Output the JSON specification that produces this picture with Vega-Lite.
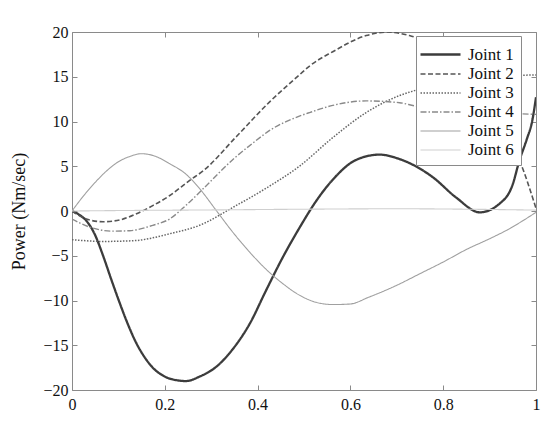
{
  "$schema": "https://vega.github.io/schema/vega-lite/v6.json",
  "width": 464,
  "height": 358,
  "autosize": {"type": "none"},
  "padding": {"left": 72, "top": 32, "right": 7, "bottom": 35},
  "background": "white",
  "config": {
    "view": {"stroke": "#8a8a8a", "strokeWidth": 1},
    "font": "Liberation Serif",
    "style": {
      "guide-label": {"font": "Liberation Serif", "fontSize": 16, "fill": "#111"},
      "guide-title": {"font": "Liberation Serif", "fontSize": 18, "fill": "#111", "fontWeight": "normal"}
    },
    "axis": {
      "domain": false,
      "grid": false,
      "tickColor": "#8a8a8a",
      "tickSize": -5,
      "labelFont": "Liberation Serif",
      "labelFontSize": 16,
      "labelColor": "#111",
      "titleFont": "Liberation Serif",
      "titleFontSize": 18,
      "titleFontWeight": "normal",
      "titleColor": "#111"
    },
    "legend": {"labelFont": "Liberation Serif", "labelFontSize": 17}
  },
  "datasets": {
    "power": [
      {"joint": "Joint 1", "t": 0, "p": 0},
      {"joint": "Joint 1", "t": 0.015, "p": -0.4},
      {"joint": "Joint 1", "t": 0.031, "p": -1.1},
      {"joint": "Joint 1", "t": 0.049, "p": -2.6},
      {"joint": "Joint 1", "t": 0.067, "p": -5.0},
      {"joint": "Joint 1", "t": 0.085, "p": -7.7},
      {"joint": "Joint 1", "t": 0.103, "p": -10.3},
      {"joint": "Joint 1", "t": 0.12, "p": -12.6},
      {"joint": "Joint 1", "t": 0.139, "p": -14.8},
      {"joint": "Joint 1", "t": 0.156, "p": -16.3},
      {"joint": "Joint 1", "t": 0.174, "p": -17.5},
      {"joint": "Joint 1", "t": 0.2, "p": -18.5},
      {"joint": "Joint 1", "t": 0.225, "p": -18.9},
      {"joint": "Joint 1", "t": 0.246, "p": -19.0},
      {"joint": "Joint 1", "t": 0.275, "p": -18.5},
      {"joint": "Joint 1", "t": 0.311, "p": -17.4},
      {"joint": "Joint 1", "t": 0.347, "p": -15.4},
      {"joint": "Joint 1", "t": 0.383, "p": -12.6},
      {"joint": "Joint 1", "t": 0.418, "p": -8.9},
      {"joint": "Joint 1", "t": 0.454, "p": -5.2},
      {"joint": "Joint 1", "t": 0.49, "p": -1.9},
      {"joint": "Joint 1", "t": 0.526, "p": 1.1},
      {"joint": "Joint 1", "t": 0.562, "p": 3.5},
      {"joint": "Joint 1", "t": 0.612, "p": 5.7},
      {"joint": "Joint 1", "t": 0.663, "p": 6.3},
      {"joint": "Joint 1", "t": 0.706, "p": 5.8},
      {"joint": "Joint 1", "t": 0.777, "p": 3.8},
      {"joint": "Joint 1", "t": 0.828, "p": 1.5},
      {"joint": "Joint 1", "t": 0.879, "p": -0.15},
      {"joint": "Joint 1", "t": 0.921, "p": 0.8},
      {"joint": "Joint 1", "t": 0.95, "p": 3.0},
      {"joint": "Joint 1", "t": 0.964, "p": 5.6},
      {"joint": "Joint 1", "t": 0.98, "p": 8.0},
      {"joint": "Joint 1", "t": 0.992, "p": 10.1},
      {"joint": "Joint 1", "t": 1.0, "p": 12.7},

      {"joint": "Joint 2", "t": 0, "p": 0},
      {"joint": "Joint 2", "t": 0.031, "p": -0.9},
      {"joint": "Joint 2", "t": 0.067, "p": -1.2},
      {"joint": "Joint 2", "t": 0.103, "p": -1.0},
      {"joint": "Joint 2", "t": 0.139, "p": -0.3},
      {"joint": "Joint 2", "t": 0.174, "p": 0.6},
      {"joint": "Joint 2", "t": 0.21, "p": 1.7},
      {"joint": "Joint 2", "t": 0.253, "p": 3.4},
      {"joint": "Joint 2", "t": 0.283, "p": 4.5},
      {"joint": "Joint 2", "t": 0.354, "p": 8.3},
      {"joint": "Joint 2", "t": 0.426, "p": 12.2},
      {"joint": "Joint 2", "t": 0.49, "p": 15.2},
      {"joint": "Joint 2", "t": 0.512, "p": 16.2},
      {"joint": "Joint 2", "t": 0.562, "p": 17.8},
      {"joint": "Joint 2", "t": 0.634, "p": 19.6},
      {"joint": "Joint 2", "t": 0.68, "p": 20.0},
      {"joint": "Joint 2", "t": 0.727, "p": 19.6},
      {"joint": "Joint 2", "t": 0.76, "p": 19.0},
      {"joint": "Joint 2", "t": 0.8, "p": 17.8},
      {"joint": "Joint 2", "t": 0.85, "p": 15.5},
      {"joint": "Joint 2", "t": 0.9, "p": 12.0},
      {"joint": "Joint 2", "t": 0.94, "p": 8.2},
      {"joint": "Joint 2", "t": 0.964, "p": 5.7},
      {"joint": "Joint 2", "t": 1.0, "p": 0.3},

      {"joint": "Joint 3", "t": 0, "p": -3.2},
      {"joint": "Joint 3", "t": 0.067, "p": -3.4},
      {"joint": "Joint 3", "t": 0.139, "p": -3.3},
      {"joint": "Joint 3", "t": 0.174, "p": -3.0},
      {"joint": "Joint 3", "t": 0.21, "p": -2.55},
      {"joint": "Joint 3", "t": 0.275, "p": -1.6},
      {"joint": "Joint 3", "t": 0.35, "p": 0.5},
      {"joint": "Joint 3", "t": 0.42, "p": 2.6},
      {"joint": "Joint 3", "t": 0.49, "p": 5.0},
      {"joint": "Joint 3", "t": 0.562, "p": 8.2},
      {"joint": "Joint 3", "t": 0.634, "p": 11.0},
      {"joint": "Joint 3", "t": 0.706, "p": 12.9},
      {"joint": "Joint 3", "t": 0.738, "p": 13.45},
      {"joint": "Joint 3", "t": 0.8, "p": 14.4},
      {"joint": "Joint 3", "t": 0.9, "p": 15.0},
      {"joint": "Joint 3", "t": 1.0, "p": 15.2},

      {"joint": "Joint 4", "t": 0, "p": -0.9},
      {"joint": "Joint 4", "t": 0.038, "p": -1.8},
      {"joint": "Joint 4", "t": 0.088, "p": -2.25},
      {"joint": "Joint 4", "t": 0.124, "p": -2.2},
      {"joint": "Joint 4", "t": 0.174, "p": -1.6},
      {"joint": "Joint 4", "t": 0.21, "p": -0.9},
      {"joint": "Joint 4", "t": 0.245, "p": 0.6},
      {"joint": "Joint 4", "t": 0.28, "p": 2.35},
      {"joint": "Joint 4", "t": 0.35, "p": 5.9},
      {"joint": "Joint 4", "t": 0.39, "p": 7.6},
      {"joint": "Joint 4", "t": 0.426, "p": 9.0},
      {"joint": "Joint 4", "t": 0.49, "p": 10.6},
      {"joint": "Joint 4", "t": 0.512, "p": 11.0},
      {"joint": "Joint 4", "t": 0.562, "p": 11.8},
      {"joint": "Joint 4", "t": 0.634, "p": 12.3},
      {"joint": "Joint 4", "t": 0.706, "p": 12.1},
      {"joint": "Joint 4", "t": 0.738, "p": 11.75},
      {"joint": "Joint 4", "t": 0.8, "p": 11.3},
      {"joint": "Joint 4", "t": 0.9, "p": 11.0},
      {"joint": "Joint 4", "t": 1.0, "p": 10.8},

      {"joint": "Joint 5", "t": 0, "p": 0},
      {"joint": "Joint 5", "t": 0.025, "p": 1.7},
      {"joint": "Joint 5", "t": 0.05, "p": 3.2},
      {"joint": "Joint 5", "t": 0.075, "p": 4.5},
      {"joint": "Joint 5", "t": 0.1, "p": 5.5},
      {"joint": "Joint 5", "t": 0.125, "p": 6.1},
      {"joint": "Joint 5", "t": 0.149, "p": 6.4},
      {"joint": "Joint 5", "t": 0.175, "p": 6.2},
      {"joint": "Joint 5", "t": 0.21, "p": 5.3},
      {"joint": "Joint 5", "t": 0.246, "p": 4.1},
      {"joint": "Joint 5", "t": 0.275, "p": 2.5},
      {"joint": "Joint 5", "t": 0.311, "p": 0.05},
      {"joint": "Joint 5", "t": 0.347, "p": -2.4},
      {"joint": "Joint 5", "t": 0.383, "p": -4.6},
      {"joint": "Joint 5", "t": 0.418, "p": -6.5},
      {"joint": "Joint 5", "t": 0.454, "p": -8.1},
      {"joint": "Joint 5", "t": 0.49, "p": -9.4},
      {"joint": "Joint 5", "t": 0.526, "p": -10.2},
      {"joint": "Joint 5", "t": 0.562, "p": -10.45},
      {"joint": "Joint 5", "t": 0.598, "p": -10.4},
      {"joint": "Joint 5", "t": 0.641, "p": -9.6},
      {"joint": "Joint 5", "t": 0.7, "p": -8.3},
      {"joint": "Joint 5", "t": 0.75, "p": -7.0},
      {"joint": "Joint 5", "t": 0.8, "p": -5.7},
      {"joint": "Joint 5", "t": 0.85, "p": -4.3},
      {"joint": "Joint 5", "t": 0.9, "p": -3.1},
      {"joint": "Joint 5", "t": 0.935, "p": -2.2},
      {"joint": "Joint 5", "t": 1.0, "p": -0.15},

      {"joint": "Joint 6", "t": 0, "p": 0},
      {"joint": "Joint 6", "t": 0.1, "p": 0.05},
      {"joint": "Joint 6", "t": 0.3, "p": 0.12},
      {"joint": "Joint 6", "t": 0.5, "p": 0.2},
      {"joint": "Joint 6", "t": 0.7, "p": 0.25},
      {"joint": "Joint 6", "t": 0.85, "p": 0.2},
      {"joint": "Joint 6", "t": 1.0, "p": 0.1}
    ]
  },
  "data": {"name": "power"},
  "layer": [
    {
      "mark": {"type": "line", "interpolate": "monotone", "clip": true},
      "encoding": {
        "x": {
          "field": "t", "type": "quantitative",
          "scale": {"domain": [0, 1], "nice": false, "zero": false},
          "axis": {"orient": "bottom", "values": [0, 0.2, 0.4, 0.6, 0.8, 1], "format": "~g", "title": null, "labelPadding": 11, "labelFlush": false, "labelOverlap": false, "labelFont": "Liberation Serif", "labelFontSize": 16}
        },
        "y": {
          "field": "p", "type": "quantitative",
          "scale": {"domain": [-20, 20], "nice": false, "zero": false},
          "axis": {"orient": "left", "values": [-20, -15, -10, -5, 0, 5, 10, 15, 20], "title": "Power (Nm/sec)", "titlePadding": 14, "labelPadding": 9, "labelFlush": false, "labelOverlap": false, "labelFont": "Liberation Serif", "labelFontSize": 16}
        },
        "color": {
          "field": "joint", "type": "nominal",
          "scale": {"domain": ["Joint 1", "Joint 2", "Joint 3", "Joint 4", "Joint 5", "Joint 6"], "range": ["#3c3c3c", "#555555", "#666666", "#8a8a8a", "#a0a0a0", "#cfcfcf"]},
          "legend": {
            "title": null, "orient": "none", "legendX": 344, "legendY": 4,
            "strokeColor": "#8a8a8a", "fillColor": "white", "padding": 7,
            "symbolType": "M-2,0H2", "symbolSize": 400, "symbolOffset": 6,
            "labelFont": "Liberation Serif", "labelFontSize": 17, "labelColor": "#111",
            "labelExpr": "datum.label + '\u00a0\u00a0\u00a0\u00a0'",
            "rowPadding": -2.5, "labelOffset": 16
          }
        },
        "strokeDash": {
          "field": "joint", "type": "nominal",
          "scale": {"domain": ["Joint 1", "Joint 2", "Joint 3", "Joint 4", "Joint 5", "Joint 6"], "range": [[1, 0], [5, 2.5], [1.5, 1.5], [6, 2, 1.5, 2], [1, 0], [1, 0]]}
        },
        "strokeWidth": {
          "field": "joint", "type": "nominal",
          "scale": {"type": "ordinal", "domain": ["Joint 1", "Joint 2", "Joint 3", "Joint 4", "Joint 5", "Joint 6"], "range": [2.3, 1.6, 1.5, 1.4, 1.1, 1.1]}
        }
      }
    },
    {
      "mark": {"type": "point", "opacity": 0},
      "encoding": {
        "x": {"field": "t", "type": "quantitative", "axis": {"orient": "top", "values": [0, 0.2, 0.4, 0.6, 0.8, 1], "labels": false, "title": null}},
        "y": {"field": "p", "type": "quantitative", "axis": {"orient": "right", "values": [-20, -15, -10, -5, 0, 5, 10, 15, 20], "labels": false, "title": null}}
      }
    }
  ],
  "resolve": {"axis": {"x": "independent", "y": "independent"}}
}
